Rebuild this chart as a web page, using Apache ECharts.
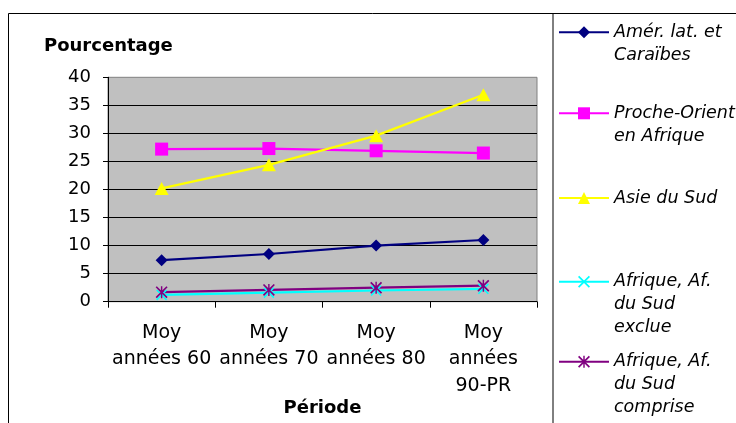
<!DOCTYPE html>
<html>
<head>
<meta charset="utf-8">
<script src="https://cdn.jsdelivr.net/npm/echarts@6/dist/echarts.min.js"></script>
<style>
html,body{margin:0;padding:0;background:#fff;}
#chart{width:736px;height:423px;}
</style>
</head>
<body>
<div id="chart"></div>
<script>
const categories = ['Moy\nannées 60', 'Moy\nannées 70', 'Moy\nannées 80', 'Moy\nannées\n90-PR'];
const amerLat = [7.4, 8.5, 10.0, 11.0];
const procheOrient = [27.2, 27.3, 26.9, 26.5];
const asieSud = [20.2, 24.4, 29.6, 36.9];
const afriqueExclue = [1.2, 1.6, 2.0, 2.3];
const afriqueComprise = [1.7, 2.1, 2.5, 2.85];
const seriesNames = [
  'Amér. lat. et\nCaraïbes',
  'Proche-Orient\nen Afrique',
  'Asie du Sud',
  'Afrique, Af.\ndu Sud\nexclue',
  'Afrique, Af.\ndu Sud\ncomprise'
];
const yAxisTitle = 'Pourcentage';
const xAxisTitle = 'Période';

const F = 'DejaVu Sans';
const colors = ['#000080', '#FF00FF', '#FFFF00', '#00FFFF', '#800080'];
const xPath = 'path://M0,1L1,0L5,4L9,0L10,1L6,5L10,9L9,10L5,6L1,10L0,9L4,5Z';
const starPath = 'path://M0,1L1,0L5,4L9,0L10,1L6,5L10,9L9,10L5,6L1,10L0,9L4,5Z M4.4,0L5.6,0L5.6,10L4.4,10Z';
const symbols = ['diamond', 'rect', 'triangle', xPath, starPath];
const symbolSizes = [[12, 12], [13, 13], [14, 13], [11, 11], [12, 12]];
const values = [amerLat, procheOrient, asieSud, afriqueExclue, afriqueComprise];

const LH = 23;
const iconCenters = [32.3, 113.3, 198, 281.7, 361.7];
const legends = seriesNames.map((name, i) => {
  const n = name.split('\n').length;
  const H = (2 * n - 1) * LH;
  return {
    data: [name],
    left: 558,
    top: iconCenters[i] - H / 2,
    padding: 0,
    itemWidth: 50,
    itemHeight: 15,
    selectedMode: false,
    // blank lines before the text so the icon lines up with the first line
    formatter: (nm) => ' \n'.repeat(nm.split('\n').length - 1) + nm,
    textStyle: {
      fontFamily: F, fontStyle: 'italic', fontSize: 17.5, color: '#000',
      lineHeight: LH
    }
  };
});

const series = seriesNames.map((name, i) => ({
  name: name,
  type: 'line',
  data: values[i],
  symbol: symbols[i],
  symbolSize: symbolSizes[i],
  showAllSymbol: true,
  lineStyle: { color: colors[i], width: 2.2 },
  itemStyle: { color: colors[i], borderWidth: 0 },
  emphasis: { disabled: true }
}));

const chart = echarts.init(document.getElementById('chart'), null, { renderer: 'canvas' });
chart.setOption({
  animation: false,
  backgroundColor: '#fff',
  title: {
    text: yAxisTitle, left: 44, top: 36, padding: 0,
    textStyle: { fontFamily: F, fontSize: 18, fontWeight: 'bold', color: '#000', lineHeight: 20 }
  },
  grid: {
    left: 108, right: 199, top: 77.3, bottom: 121.3,
    containLabel: false,
    outerBoundsMode: 'none',
    show: true, backgroundColor: '#C0C0C0', borderColor: '#808080', borderWidth: 1
  },
  legend: legends,
  xAxis: {
    type: 'category',
    data: categories,
    boundaryGap: true,
    axisLine: { lineStyle: { color: '#000', width: 1 } },
    axisTick: { show: true, length: 6, lineStyle: { color: '#000' } },
    axisLabel: { fontFamily: F, fontSize: 19, color: '#000', lineHeight: 26.5, margin: 18, interval: 0 },
    name: xAxisTitle,
    nameLocation: 'middle',
    nameGap: 97,
    nameMoveOverlap: false,
    nameTextStyle: { fontFamily: F, fontSize: 18, fontWeight: 'bold', color: '#000', lineHeight: 20 }
  },
  yAxis: {
    type: 'value', min: 0, max: 40, interval: 5,
    axisLine: { show: true, lineStyle: { color: '#000', width: 1 } },
    axisTick: { show: true, length: 5, lineStyle: { color: '#000' } },
    axisLabel: { fontFamily: F, fontSize: 18, color: '#000', margin: 17 },
    splitLine: { show: true, showMaxLine: false, lineStyle: { color: '#000', width: 1 } }
  },
  series: series,
  graphic: [
    { type: 'line', silent: true, shape: { x1: 8.5, y1: 13.5, x2: 736, y2: 13.5 }, style: { stroke: '#000', lineWidth: 1 } },
    { type: 'line', silent: true, shape: { x1: 8.5, y1: 13.5, x2: 8.5, y2: 423 }, style: { stroke: '#000', lineWidth: 1 } },
    { type: 'line', silent: true, shape: { x1: 553, y1: 13.5, x2: 553, y2: 423 }, style: { stroke: '#000', lineWidth: 1 } }
  ]
});
</script>
</body>
</html>
